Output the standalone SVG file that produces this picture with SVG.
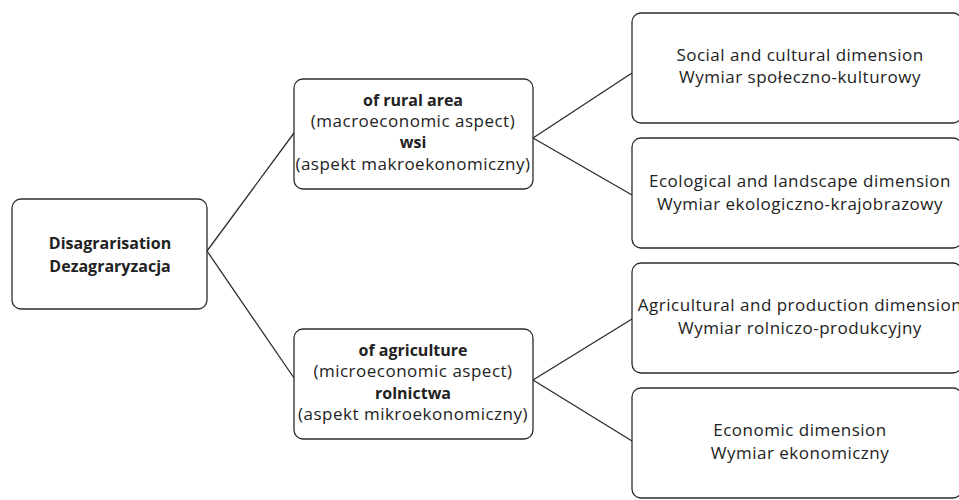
<svg xmlns="http://www.w3.org/2000/svg" width="959" height="500" viewBox="0 0 959 500">
<style>
.box{fill:#fff;stroke:#2b2b2b;stroke-width:1.3}
.t{font-family:"Open Sans","Noto Sans","Liberation Sans",sans-serif;font-size:17px;letter-spacing:0.5px;fill:#222;text-anchor:middle}
.b{font-weight:bold;font-size:16px;letter-spacing:0}
.c{stroke:#2b2b2b;stroke-width:1.3;fill:none}
</style>
<rect width="959" height="500" fill="#fff"/>
<g id="connectors">
<line class="c" x1="207" y1="251" x2="294" y2="133"/>
<line class="c" x1="207" y1="251" x2="294" y2="378"/>
<line class="c" x1="533" y1="138" x2="632" y2="73"/>
<line class="c" x1="533" y1="138" x2="632" y2="195"/>
<line class="c" x1="533" y1="380" x2="632" y2="319"/>
<line class="c" x1="533" y1="380" x2="632" y2="441"/>
</g>
<g id="root">
<rect class="box" x="12" y="199" width="195" height="110" rx="9"/>
<text class="t b" x="110" y="249">Disagrarisation</text>
<text class="t b" x="110" y="272">Dezagraryzacja</text>
</g>
<g id="rural">
<rect class="box" x="294" y="79" width="239" height="110" rx="9"/>
<text class="t b" x="413" y="106">of rural area</text>
<text class="t" x="413" y="127">(macroeconomic aspect)</text>
<text class="t b" x="413" y="148">wsi</text>
<text class="t" x="413" y="170">(aspekt makroekonomiczny)</text>
</g>
<g id="agri">
<rect class="box" x="294" y="329" width="239" height="110" rx="9"/>
<text class="t b" x="413" y="356">of agriculture</text>
<text class="t" x="413" y="377">(microeconomic aspect)</text>
<text class="t b" x="413" y="399">rolnictwa</text>
<text class="t" x="413" y="420">(aspekt mikroekonomiczny)</text>
</g>
<g id="social">
<rect class="box" x="632" y="13" width="330" height="110" rx="9"/>
<text class="t" x="800" y="61">Social and cultural dimension</text>
<text class="t" x="800" y="83">Wymiar społeczno-kulturowy</text>
</g>
<g id="ecological">
<rect class="box" x="632" y="138" width="330" height="110" rx="9"/>
<text class="t" x="800" y="187">Ecological and landscape dimension</text>
<text class="t" x="800" y="210">Wymiar ekologiczno-krajobrazowy</text>
</g>
<g id="agricultural">
<rect class="box" x="632" y="263" width="330" height="110" rx="9"/>
<text class="t" x="800" y="311">Agricultural and production dimension</text>
<text class="t" x="800" y="334">Wymiar rolniczo-produkcyjny</text>
</g>
<g id="economic">
<rect class="box" x="632" y="388" width="330" height="110" rx="9"/>
<text class="t" x="800" y="436">Economic dimension</text>
<text class="t" x="800" y="459">Wymiar ekonomiczny</text>
</g>
</svg>
